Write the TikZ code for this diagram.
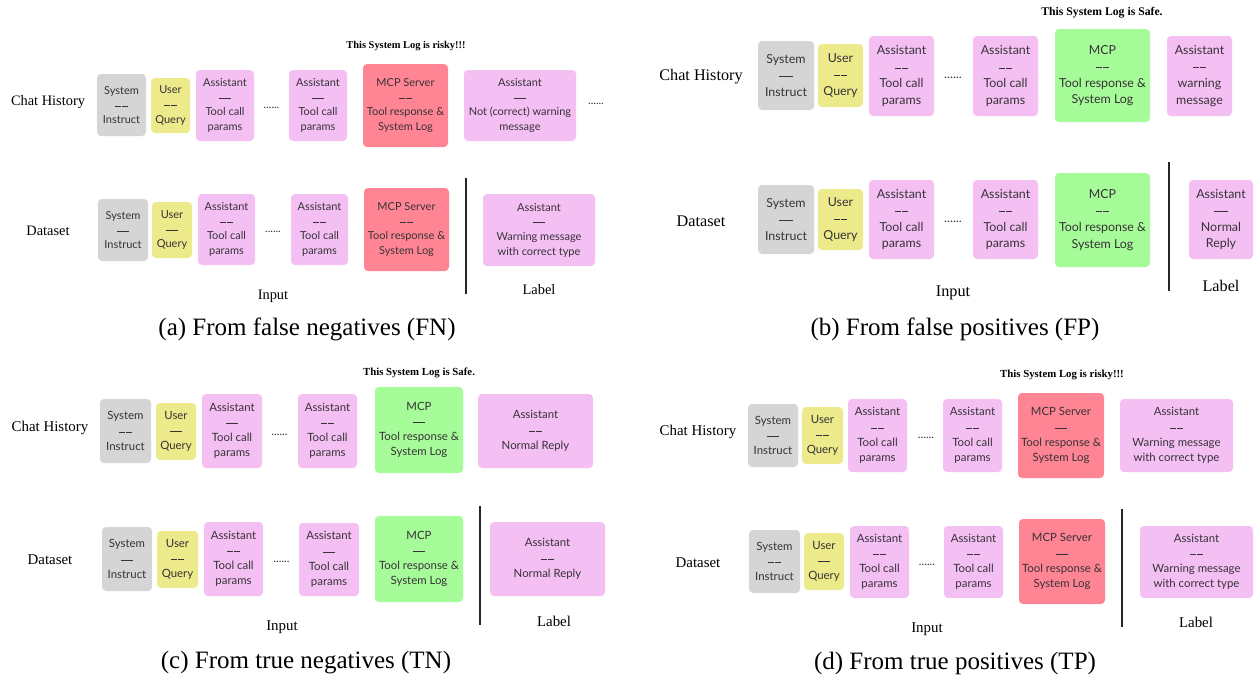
\documentclass[tikz,border=0pt]{standalone}
\usepackage{fontspec}
\setmainfont{Liberation Serif}
\newfontfamily\boxfont{Lato}
\definecolor{cgray}{RGB}{213,213,213}
\definecolor{cyel}{RGB}{236,234,138}
\definecolor{cpink}{RGB}{244,192,244}
\definecolor{cred}{RGB}{255,133,148}
\definecolor{cgreen}{RGB}{166,252,152}
\definecolor{ctext}{RGB}{55,50,55}
\newcommand{\dsh}{\rule[0.22em]{0.52em}{0.075em}\hspace{0.07em}\rule[0.22em]{0.52em}{0.075em}}
\newcommand{\bx}[7]{\node[box,fill=#6,minimum width={(#4)-(#2)},minimum height={(#5)-(#3)}] (#1) at ({((#2)+(#4))/2},{((#3)+(#5))/2}) {#7};}
\begin{document}
\begin{tikzpicture}[x=1pt,y=-1pt,
  box/.style={bf,rounded corners=4pt,inner sep=0pt,align=center,text=ctext},
  side/.style={lf,text=black,inner sep=0pt},
  ttl/.style={tf,text=black,inner sep=0pt},
  captxt/.style={font=\fontsize{25}{28}\selectfont,inner sep=0pt},
  dotsn/.style={bf,text=ctext,inner sep=0pt},
  divider/.style={line width=1.2pt,draw=black!85}]
\useasboundingbox (0,0) rectangle (1254,680);
\fill[white] (0,0) rectangle (1254,680);
% ---------------- (a)
\begin{scope}[bf/.style={font=\boxfont\fontsize{11}{14.7}\selectfont},
  lf/.style={font=\fontsize{14.4}{16}\selectfont},
  tf/.style={font=\bfseries\fontsize{10.4}{12}\selectfont}]
\node[ttl] (aT) at (406,46) {This System Log is risky!!!};
\node[side] (aCH) at (48,102) {Chat History};
\bx{aS1}{97}{74}{146}{136}{cgray}{System\\\dsh\\Instruct}
\bx{aU1}{151}{78}{190}{133}{cyel}{User\\\dsh\\Query}
\bx{aA1}{196}{70}{254}{141}{cpink}{Assistant\\\dsh\\Tool call\\params}
\node[dotsn] (aD1) at (271.5,108) {......};
\bx{aB1}{289}{70}{347}{141}{cpink}{Assistant\\\dsh\\Tool call\\params}
\bx{aM1}{363}{64}{448}{147}{cred}{MCP Server\\\dsh\\Tool response \&\\System Log}
\bx{aO1}{464}{70}{576}{141}{cpink}{Assistant\\\dsh\\Not (correct) warning\\message}
\node[dotsn] (aE1) at (596,104) {......};
\node[side] (aDS) at (48,231) {Dataset};
\bx{aS2}{98}{199}{148}{261}{cgray}{System\\\dsh\\Instruct}
\bx{aU2}{152}{202}{192}{258}{cyel}{User\\\dsh\\Query}
\bx{aA2}{198}{194}{255}{265}{cpink}{Assistant\\\dsh\\Tool call\\params}
\node[dotsn] (aD2) at (273,232) {......};
\bx{aB2}{291}{194}{348}{265}{cpink}{Assistant\\\dsh\\Tool call\\params}
\bx{aM2}{364}{188}{449}{271}{cred}{MCP Server\\\dsh\\Tool response \&\\System Log}
\bx{aL2}{483}{194}{595}{266}{cpink}{Assistant\\\dsh\\Warning message\\with correct type}
\coordinate (aV1) at (466,178); \coordinate (aV2) at (466,294);
\draw[divider] (aV1) -- (aV2);
\node[side] (aIn) at (273,296) {Input};
\node[side] (aLb) at (539,290) {Label};
\node[captxt] (aCap) at (307,329) {(a) From false negatives (FN)};
\end{scope}
% ---------------- (b)
\begin{scope}[bf/.style={font=\boxfont\fontsize{12.4}{16.5}\selectfont},
  lf/.style={font=\fontsize{16.2}{18}\selectfont},
  tf/.style={font=\bfseries\fontsize{11.7}{13}\selectfont}]
\node[ttl] (bT) at (1102,13) {This System Log is Safe.};
\node[side] (bCH) at (701,77) {Chat History};
\bx{bS1}{758}{41}{814}{110}{cgray}{System\\\dsh\\Instruct}
\bx{bU1}{818}{44}{863}{107}{cyel}{User\\\dsh\\Query}
\bx{bA1}{869}{36}{934}{116}{cpink}{Assistant\\\dsh\\Tool call\\params}
\node[dotsn] (bD1) at (953,78) {......};
\bx{bB1}{973}{36}{1038}{116}{cpink}{Assistant\\\dsh\\Tool call\\params}
\bx{bM1}{1055}{29}{1150}{122}{cgreen}{MCP\\\dsh\\Tool response \&\\System Log}
\bx{bO1}{1167}{36}{1232}{116}{cpink}{Assistant\\\dsh\\warning\\message}
\node[side] (bDS) at (701,221) {Dataset};
\bx{bS2}{758}{185}{814}{254}{cgray}{System\\\dsh\\Instruct}
\bx{bU2}{818}{189}{863}{250}{cyel}{User\\\dsh\\Query}
\bx{bA2}{869}{180}{934}{259}{cpink}{Assistant\\\dsh\\Tool call\\params}
\node[dotsn] (bD2) at (953,222) {......};
\bx{bB2}{973}{180}{1038}{259}{cpink}{Assistant\\\dsh\\Tool call\\params}
\bx{bM2}{1055}{173}{1150}{267}{cgreen}{MCP\\\dsh\\Tool response \&\\System Log}
\bx{bL2}{1189}{180}{1253}{259}{cpink}{Assistant\\\dsh\\Normal\\Reply}
\coordinate (bV1) at (1169,162); \coordinate (bV2) at (1169,291);
\draw[divider] (bV1) -- (bV2);
\node[side] (bIn) at (953,293) {Input};
\node[side] (bLb) at (1221,286) {Label};
\node[captxt] (bCap) at (955,329) {(b) From false positives (FP)};
\end{scope}
% ---------------- (c)
\begin{scope}[bf/.style={font=\boxfont\fontsize{11.4}{15.2}\selectfont},
  lf/.style={font=\fontsize{14.9}{17}\selectfont},
  tf/.style={font=\bfseries\fontsize{10.8}{12}\selectfont}]
\node[ttl] (cT) at (419,373) {This System Log is Safe.};
\node[side] (cCH) at (50,428) {Chat History};
\bx{cS1}{100}{399}{151}{463}{cgray}{System\\\dsh\\Instruct}
\bx{cU1}{156}{403}{196}{460}{cyel}{User\\\dsh\\Query}
\bx{cA1}{202}{394}{262}{468}{cpink}{Assistant\\\dsh\\Tool call\\params}
\node[dotsn] (cD1) at (279.5,435) {......};
\bx{cB1}{298}{394}{357}{468}{cpink}{Assistant\\\dsh\\Tool call\\params}
\bx{cM1}{375}{387}{463}{473}{cgreen}{MCP\\\dsh\\Tool response \&\\System Log}
\bx{cO1}{478}{394}{593}{468}{cpink}{Assistant\\\dsh\\Normal Reply}
\node[side] (cDS) at (50,560) {Dataset};
\bx{cS2}{102}{527}{152}{591}{cgray}{System\\\dsh\\Instruct}
\bx{cU2}{157}{531}{198}{588}{cyel}{User\\\dsh\\Query}
\bx{cA2}{204}{522}{263}{596}{cpink}{Assistant\\\dsh\\Tool call\\params}
\node[dotsn] (cD2) at (281.5,562) {......};
\bx{cB2}{299}{523}{359}{596}{cpink}{Assistant\\\dsh\\Tool call\\params}
\bx{cM2}{375}{516}{463}{602}{cgreen}{MCP\\\dsh\\Tool response \&\\System Log}
\bx{cL2}{490}{522}{605}{596}{cpink}{Assistant\\\dsh\\Normal Reply}
\coordinate (cV1) at (480,506); \coordinate (cV2) at (480,625);
\draw[divider] (cV1) -- (cV2);
\node[side] (cIn) at (282,627) {Input};
\node[side] (cLb) at (554,621) {Label};
\node[captxt] (cCap) at (306,663) {(c) From true negatives (TN)};
\end{scope}
% ---------------- (d)
\begin{scope}[bf/.style={font=\boxfont\fontsize{11.4}{15.2}\selectfont},
  lf/.style={font=\fontsize{14.9}{17}\selectfont},
  tf/.style={font=\bfseries\fontsize{10.8}{12}\selectfont}]
\node[ttl] (dT) at (1062,375) {This System Log is risky!!!};
\node[side] (dCH) at (698,432) {Chat History};
\bx{dS1}{748}{404}{798}{467}{cgray}{System\\\dsh\\Instruct}
\bx{dU1}{802}{407}{843}{464}{cyel}{User\\\dsh\\Query}
\bx{dA1}{848}{399}{907}{472}{cpink}{Assistant\\\dsh\\Tool call\\params}
\node[dotsn] (dD1) at (926,438) {......};
\bx{dB1}{943}{399}{1002}{472}{cpink}{Assistant\\\dsh\\Tool call\\params}
\bx{dM1}{1018}{393}{1104}{478}{cred}{MCP Server\\\dsh\\Tool response \&\\System Log}
\bx{dO1}{1120}{399}{1233}{472}{cpink}{Assistant\\\dsh\\Warning message\\with correct type}
\node[side] (dDS) at (698,563) {Dataset};
\bx{dS2}{749}{530}{800}{593}{cgray}{System\\\dsh\\Instruct}
\bx{dU2}{804}{533}{844}{590}{cyel}{User\\\dsh\\Query}
\bx{dA2}{850}{526}{909}{598}{cpink}{Assistant\\\dsh\\Tool call\\params}
\node[dotsn] (dD2) at (927,565) {......};
\bx{dB2}{944}{526}{1003}{598}{cpink}{Assistant\\\dsh\\Tool call\\params}
\bx{dM2}{1019}{519}{1105}{604}{cred}{MCP Server\\\dsh\\Tool response \&\\System Log}
\bx{dL2}{1140}{526}{1253}{598}{cpink}{Assistant\\\dsh\\Warning message\\with correct type}
\coordinate (dV1) at (1122,509); \coordinate (dV2) at (1122,627);
\draw[divider] (dV1) -- (dV2);
\node[side] (dIn) at (927,629) {Input};
\node[side] (dLb) at (1196,622) {Label};
\node[captxt] (dCap) at (955,663) {(d) From true positives (TP)};
\end{scope}
\end{tikzpicture}
\end{document}
